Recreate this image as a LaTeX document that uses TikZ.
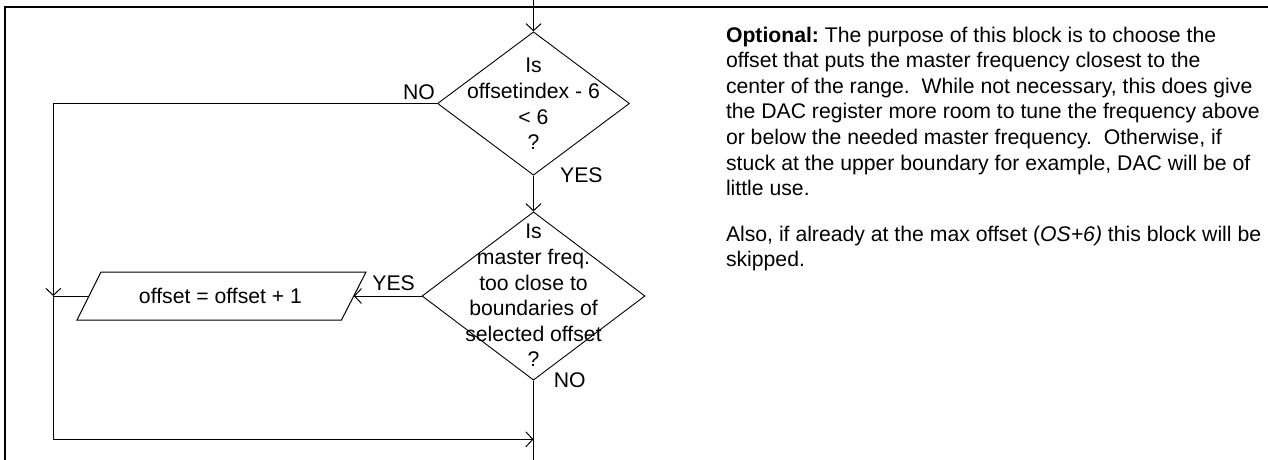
\documentclass[tikz,border=0pt]{standalone}
\usepackage{fontspec}
\setmainfont{Liberation Sans}
\usetikzlibrary{shapes.geometric,arrows.meta}
\newcommand{\fcfont}{\fontsize{21.2pt}{25.6pt}\selectfont\frenchspacing}
\begin{document}
\begin{tikzpicture}[x=1pt,y=-1pt,
  conn/.style={line width=1pt,draw=black},
  arr/.style={conn,-{Straight Barb[length=7pt,width=15pt,line width=1pt]}},
  decision/.style={draw,diamond,line width=0.9pt,inner sep=0pt},
  txt/.style={font=\fcfont,inner sep=0pt,align=center},
  lbl/.style={font=\fcfont,inner sep=0pt},
  frame/.style={line width=2.2pt,draw=black}
]
\useasboundingbox (0,0) rectangle (1268,460);
% frame
\draw[frame] (5,460) -- (5,7.3) -- (1268,7.3);
% decisions
\node[decision,minimum width=192pt,minimum height=143.4pt] (d1) at (533.5,103.5) {};
\node[txt] (d1t) at (533.5,104.1) {Is\\offsetindex - 6\\< 6\\?};
\node[decision,minimum width=223pt,minimum height=168.3pt] (d2) at (533.5,296) {};
\node[txt] (d2t) at (533.5,295.7) {Is\\master freq.\\too close to\\boundaries of\\selected offset\\?};
% parallelogram
\coordinate (pTL) at (101,272);
\coordinate (pTR) at (366,272);
\coordinate (pBR) at (341.5,320);
\coordinate (pBL) at (77,320);
\draw[conn] (pTL) -- (pTR) -- (pBR) -- (pBL) -- cycle;
\node[lbl] (pt) at (220.5,296) {offset = offset + 1};
\coordinate (pR) at (353.75,296);
\coordinate (pL) at (89,296);
% connector points
\coordinate (top) at (533.5,0);
\coordinate (bot) at (533.5,460);
\coordinate (j1) at (53.3,296);
\coordinate (j2) at (533.5,439.3);
\draw[arr] (top) -- (d1.north);
\draw[arr] (d1.south) -- (d2.north);
\draw[arr] (d1.west) -| (j1);
\draw[arr] (d2.west) -- (pR);
\draw[conn] (pL) -- (j1);
\draw[arr] (j1) |- (j2);
\draw[conn] (d2.south) -- (bot);
% labels
\node[lbl,anchor=base east] (no1) at (435,99.3) {NO};
\node[lbl,anchor=base west] (yes1) at (560,182.6) {YES};
\node[lbl,anchor=base east] (yes2) at (415,290.9) {YES};
\node[lbl,anchor=base west] (no2) at (553.6,387.6) {NO};
% notes
\node[lbl,align=left,anchor=north west] (note1) at (725.8,26.5) {\textbf{Optional:} The purpose of this block is to choose the\\offset that puts the master frequency closest to the\\center of the range.\ \ While not necessary, this does give\\the DAC register more room to tune the frequency above\\or below the needed master frequency.\ \ Otherwise, if\\stuck at the upper boundary for example, DAC will be of\\little use.};
\node[lbl,align=left,anchor=north west] (note2) at (725.8,225.5) {Also, if already at the max offset (\textit{OS+6)} this block will be\\skipped.};
\end{tikzpicture}
\end{document}
